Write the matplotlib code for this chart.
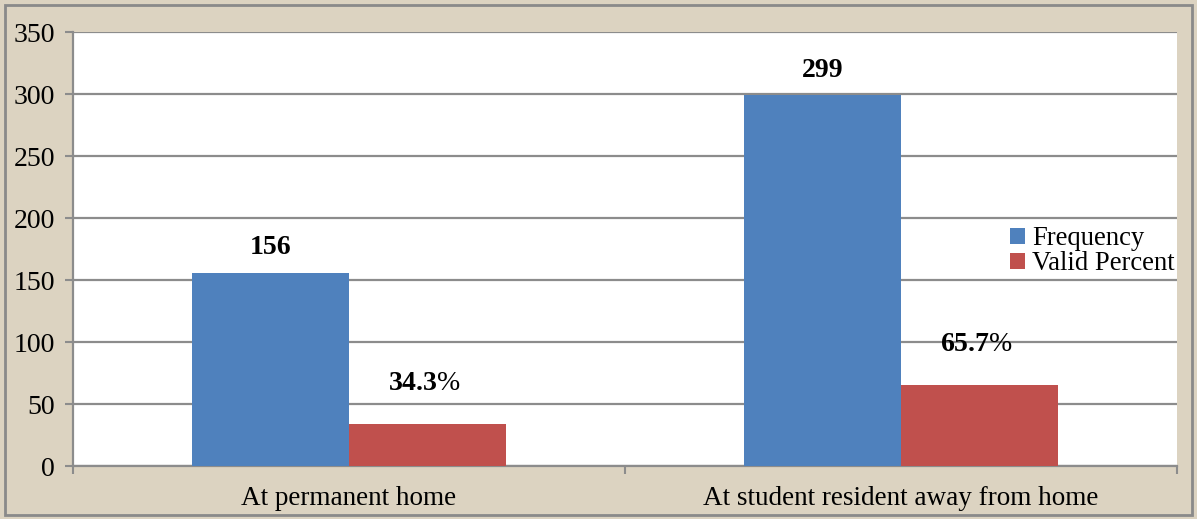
import numpy as np
import matplotlib.pyplot as plt
from matplotlib.patches import Rectangle

categories = ['At permanent home', 'At student resident away from home']
frequency = [156, 299]
valid_percent = [34.3, 65.7]
yticks = [0, 50, 100, 150, 200, 250, 300, 350]

plt.rcParams['font.family'] = 'Liberation Serif'
plt.rcParams['mathtext.fontset'] = 'custom'
plt.rcParams['mathtext.rm'] = 'Liberation Serif'
plt.rcParams['mathtext.bf'] = 'Liberation Serif:bold'

blue = '#4F81BD'
red = '#C0504D'
grid = '#8c8c8c'
fs = 19.5

fig = plt.figure(figsize=(11.97, 5.19), dpi=100)
fig.patch.set_facecolor('#dcd3c1')
fig.patches.append(Rectangle((0.004, 0.008), 0.992, 0.982, transform=fig.transFigure,
                             fill=False, edgecolor='#8a8a8a', linewidth=2))
ax = fig.add_axes([0.061, 0.102, 0.9222, 0.836])
ax.set_facecolor('white')

x = np.arange(len(categories))
w = 0.285
b1 = ax.bar(x - w / 2, frequency, w, color=blue, label='Frequency', zorder=3)
b2 = ax.bar(x + w / 2, valid_percent, w, color=red, label='Valid Percent', zorder=3)

for rect, v in zip(b1, frequency):
    ax.annotate(str(v), (rect.get_x() + rect.get_width() / 2, rect.get_height()),
                xytext=(0, 25), textcoords='offset pixels', ha='center', va='center',
                fontsize=20, fontweight='bold', zorder=5)
for rect, v in zip(b2, valid_percent):
    ax.annotate(r'$\mathbf{%.1f}$%%' % v, (rect.get_x() + rect.get_width() / 2, rect.get_height()),
                xytext=(-3, 40), textcoords='offset pixels', ha='center', va='center',
                fontsize=20, zorder=5)

ax.set_xlim(-0.5, 1.5)
ax.set_ylim(0, 350)
ax.set_yticks(yticks)
ax.yaxis.grid(True, color=grid, linewidth=1.6, zorder=1)
ax.set_axisbelow(True)

ax.set_xticks([-0.5, 0.5, 1.5])
ax.set_xticklabels([])
ax.set_xticks(x, minor=True)
ax.set_xticklabels(categories, minor=True)
ax.tick_params(axis='x', which='minor', length=0, pad=14, labelsize=fs)
ax.tick_params(axis='x', which='major', length=6, color=grid, width=1.5)
ax.tick_params(axis='y', length=6, color=grid, width=1.5, labelsize=20, pad=7)

for s in ['top', 'right']:
    ax.spines[s].set_visible(False)
for s in ['left', 'bottom']:
    ax.spines[s].set_color(grid)
    ax.spines[s].set_linewidth(1.6)

leg = ax.legend(loc='upper left', bbox_to_anchor=(0.848, 0.556), frameon=True,
                fontsize=19.2, handlelength=0.55, handleheight=0.55, handletextpad=0.25,
                labelspacing=0.0, borderpad=0.05, borderaxespad=0, fancybox=False)
leg.get_frame().set_edgecolor('none')
leg.get_frame().set_facecolor('white')
leg.get_frame().set_alpha(1)
leg.set_zorder(6)

fig.savefig('out.png', dpi=100, facecolor=fig.get_facecolor())
